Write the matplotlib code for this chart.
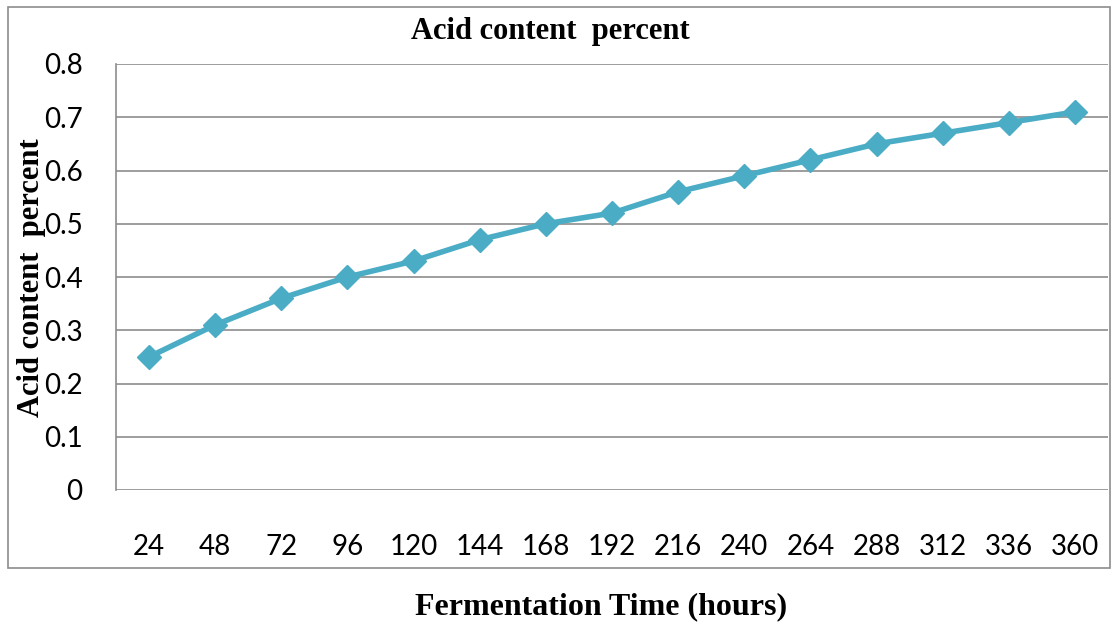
import matplotlib.pyplot as plt
from matplotlib.patches import Rectangle

hours = ['24', '48', '72', '96', '120', '144', '168', '192', '216', '240',
         '264', '288', '312', '336', '360']
acid = [0.25, 0.31, 0.36, 0.40, 0.43, 0.47, 0.50, 0.52, 0.56, 0.59,
        0.62, 0.65, 0.67, 0.69, 0.71]
y_ticks = [0, 0.1, 0.2, 0.3, 0.4, 0.5, 0.6, 0.7, 0.8]

W, H = 1117, 625
fig = plt.figure(figsize=(W / 100, H / 100), dpi=100)
ax = fig.add_axes([116 / W, 1 - 490 / H, (1108 - 116) / W, (490 - 64) / H])

x = range(len(hours))
ax.plot(x, acid, color='#4BACC6', lw=4, marker='D', ms=12.5,
        markeredgecolor='#4BACC6', zorder=3, clip_on=False)

ax.set_xlim(-0.5, len(hours) - 0.5)
ax.set_ylim(0, 0.8)
ax.set_yticks(y_ticks)
ax.set_yticklabels(['0' if v == 0 else f'{v:.1f}' for v in y_ticks])
ax.set_xticks(list(x))
ax.set_xticklabels(hours)
ax.yaxis.grid(True, color='#8c8c8c', lw=1.2)
ax.set_axisbelow(True)
for s in ['top', 'right', 'bottom']:
    ax.spines[s].set_visible(False)
ax.spines['left'].set_color('#8c8c8c')
ax.spines['left'].set_linewidth(1.2)
ax.tick_params(length=0, labelsize=20, pad=24)
ax.tick_params(axis='x', pad=32)
for lab in ax.get_xticklabels() + ax.get_yticklabels():
    lab.set_fontfamily('Lato')

# outer chart border
fig.patches.append(Rectangle((8 / W, 1 - 568 / H), (1110 - 8) / W, (568 - 7) / H,
                             transform=fig.transFigure, fill=False,
                             edgecolor='#8c8c8c', lw=1.2))

serif = dict(family='Liberation Serif', weight='bold', fontsize=22)
fig.text(550 / W, 1 - 31 / H, 'Acid content  percent', ha='center', va='center', **serif)
fig.text(32 / W, 1 - 278 / H, 'Acid content  percent', ha='center', va='center',
         rotation=90, **serif)
fig.text(601 / W, 1 - 607 / H, 'Fermentation Time (hours)', ha='center', va='center',
         family='Liberation Serif', weight='bold', fontsize=23)

fig.savefig('out.png', dpi=100)
